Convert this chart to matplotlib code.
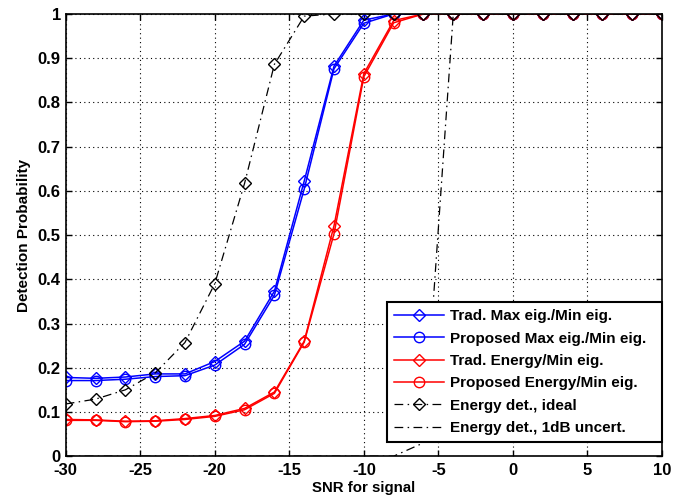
import matplotlib
matplotlib.use('Agg')
import matplotlib.pyplot as plt

plt.rcParams['font.family'] = ['Liberation Sans', 'DejaVu Sans']
plt.rcParams['font.weight'] = 'bold'
plt.rcParams['font.size'] = 11
plt.rcParams['axes.unicode_minus'] = False

# SNR grid in dB
snr = [-30, -28, -26, -24, -22, -20, -18, -16, -14, -12, -10, -8, -6,
       -4, -2, 0, 2, 4, 6, 8, 10]

# detection probabilities for each detector
trad_max_min = [0.178, 0.176, 0.179, 0.186, 0.186, 0.214, 0.260, 0.373, 0.622,
                0.882, 0.986, 1.0, 1.0, 1.0, 1.0, 1.0, 1.0, 1.0, 1.0, 1.0, 1.0]
prop_max_min = [0.171, 0.171, 0.174, 0.180, 0.182, 0.206, 0.253, 0.364, 0.604,
                0.876, 0.979, 1.0, 1.0, 1.0, 1.0, 1.0, 1.0, 1.0, 1.0, 1.0, 1.0]
trad_energy_min = [0.083, 0.082, 0.079, 0.080, 0.085, 0.092, 0.108, 0.145, 0.260,
                   0.521, 0.865, 0.985, 1.0, 1.0, 1.0, 1.0, 1.0, 1.0, 1.0, 1.0, 1.0]
prop_energy_min = [0.081, 0.081, 0.078, 0.079, 0.083, 0.090, 0.105, 0.142, 0.258,
                   0.503, 0.858, 0.980, 1.0, 1.0, 1.0, 1.0, 1.0, 1.0, 1.0, 1.0, 1.0]
energy_ideal = [0.118, 0.129, 0.150, 0.188, 0.257, 0.390, 0.617, 0.886, 0.995,
                1.0, 1.0, 1.0, 1.0, 1.0, 1.0, 1.0, 1.0, 1.0, 1.0, 1.0, 1.0]
energy_1db = [0.0, 0.0, 0.0, 0.0, 0.0, 0.0, 0.0, 0.0, 0.0, 0.0, 0.0, 0.0, 0.03,
              1.0, 1.0, 1.0, 1.0, 1.0, 1.0, 1.0, 1.0]

fig = plt.figure(figsize=(6.99, 4.98), dpi=100)
ax = fig.add_axes([0.094, 0.084, 0.853, 0.888])

dashdot = (7, 3.5, 1.2, 3.5)
lw = 1.1

ax.plot(snr, trad_max_min, color='blue', lw=lw, marker='D', ms=5.8,
        mfc='none', mew=1.0, label='Trad. Max eig./Min eig.')
ax.plot(snr, prop_max_min, color='blue', lw=lw, marker='o', ms=7.5,
        mfc='none', mew=1.0, label='Proposed Max eig./Min eig.')
ax.plot(snr, trad_energy_min, color='red', lw=lw, marker='D', ms=5.8,
        mfc='none', mew=1.0, label='Trad. Energy/Min eig.')
ax.plot(snr, prop_energy_min, color='red', lw=lw, marker='o', ms=7.5,
        mfc='none', mew=1.0, label='Proposed Energy/Min eig.')
ax.plot(snr, energy_ideal, color='black', lw=0.9, dashes=dashdot, marker='D',
        ms=5.8, mfc='none', mew=1.0, label='Energy det., ideal')
ax.plot(snr, energy_1db, color='black', lw=0.9, dashes=dashdot,
        label='Energy det., 1dB uncert.')

ax.set_xlim(-30, 10)
ax.set_ylim(0, 1)
ax.set_xticks(range(-30, 11, 5))
ax.set_yticks([i / 10 for i in range(11)])
ax.set_yticklabels(['0', '0.1', '0.2', '0.3', '0.4', '0.5', '0.6', '0.7',
                    '0.8', '0.9', '1'])

# matlab style box with inward ticks and dotted grid
ax.grid(True, color='black', linestyle=(0, (1, 3)), linewidth=0.8)
ax.tick_params(direction='in', top=True, right=True, length=4.5, width=1,
               pad=3.5, labelsize=12)
ax.tick_params(axis='x', pad=5)
for s in ax.spines.values():
    s.set_linewidth(1.2)

ax.set_xlabel('SNR for signal', fontweight='bold', fontsize=10.8, labelpad=2)
ax.set_ylabel('Detection Probability', fontweight='bold', labelpad=5)

# legend box stretched to the right edge of the axes
leg = ax.legend(loc='lower left', bbox_to_anchor=(0.539, 0.032, 0.461, 0.3),
                mode='expand', borderaxespad=0, fancybox=False, framealpha=1,
                edgecolor='black', handlelength=3.3, handletextpad=0.35,
                labelspacing=0.55, borderpad=0.45, fontsize=11)
leg.get_frame().set_linewidth(1.5)

fig.savefig('out.png', dpi=100)
